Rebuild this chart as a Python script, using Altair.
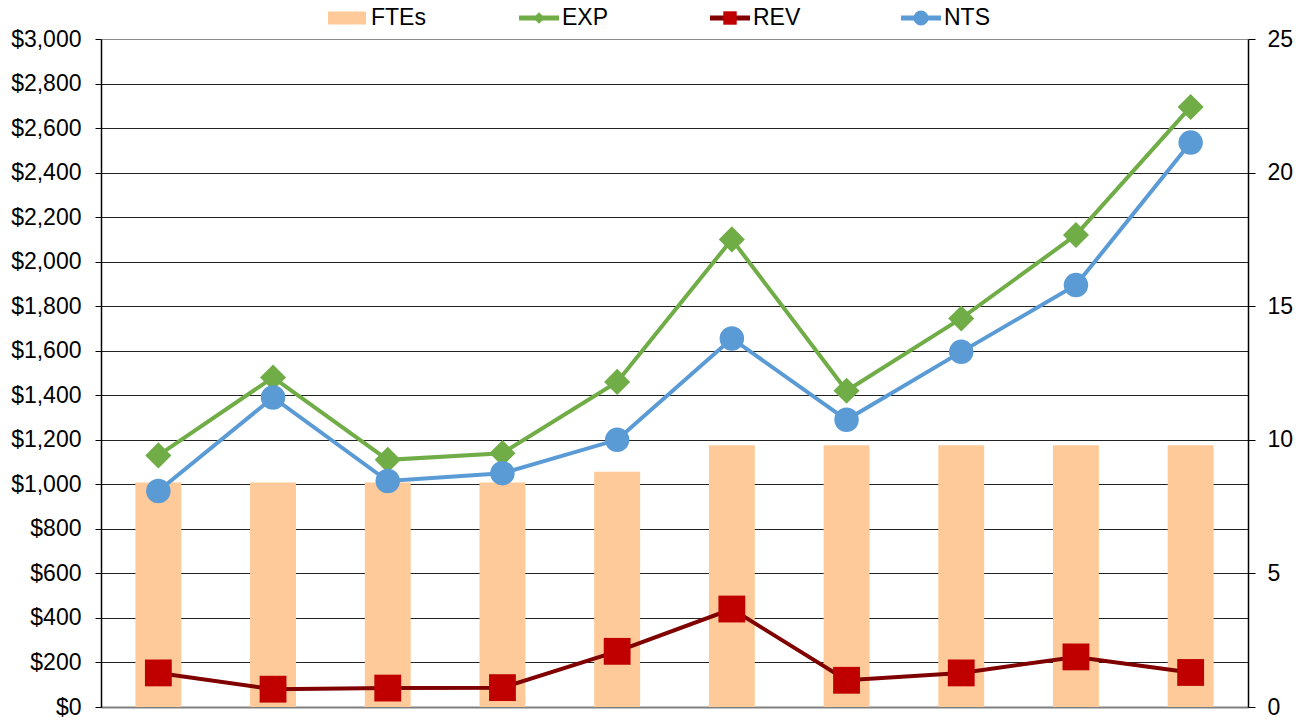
import altair as alt
import pandas as pd

# ---- data ----
categories = ["1", "2", "3", "4", "5", "6", "7", "8", "9", "10"]
fte = [8.4, 8.4, 8.4, 8.4, 8.8, 9.8, 9.8, 9.8, 9.8, 9.8]
exp = [1130, 1480, 1110, 1140, 1460, 2100, 1420, 1745, 2120, 2695]
rev = [153, 80, 85, 87, 250, 440, 120, 153, 225, 155]
nts = [970, 1390, 1015, 1050, 1200, 1655, 1290, 1595, 1895, 2535]
legend_names = ["FTEs", "EXP", "REV", "NTS"]
left_ticks = [0, 200, 400, 600, 800, 1000, 1200, 1400, 1600, 1800, 2000,
              2200, 2400, 2600, 2800, 3000]
right_ticks = [0, 5, 10, 15, 20, 25]

df = pd.DataFrame({"cat": categories, "FTEs": fte, "EXP": exp, "REV": rev, "NTS": nts})
leg = pd.DataFrame({"name": legend_names})

FONT = "Liberation Sans"
C_FTE = "#FFCA99"
C_EXP = "#70AD47"
C_REV_LINE = "#800000"
C_REV_MARK = "#C00000"
C_NTS = "#5B9BD5"

x_enc = alt.X("cat:N", sort=categories,
              scale=alt.Scale(paddingInner=0, paddingOuter=0),
              axis=alt.Axis(labels=False, ticks=False, title=None,
                            domainColor="#808080", domainWidth=2))

y_left_scale = alt.Scale(domain=[0, 3000], nice=False, zero=True)
left_axis = alt.Axis(values=left_ticks, format="$,.0f", orient="left", title=None,
                     grid=True,
                     gridColor={"condition": {"test": "datum.value >= 3000", "value": "#8c8c8c"},
                                "value": "#222222"},
                     gridWidth=1, domainColor="#000000", domainWidth=1.5,
                     tickColor="#000000", tickSize=6, labelPadding=14,
                     labelFont=FONT, labelFontSize=23, labelColor="#000000")
right_axis = alt.Axis(values=right_ticks, orient="right", title=None, grid=False,
                      domainColor="#000000", domainWidth=1.5, tickColor="#000000",
                      tickSize=7, labelPadding=12, labelFont=FONT, labelFontSize=23,
                      labelColor="#000000")

base = alt.Chart(df)

bars = base.mark_bar(color=C_FTE, width=alt.RelativeBandSize(0.4)).encode(
    x=x_enc,
    y=alt.Y("FTEs:Q", scale=alt.Scale(domain=[0, 25], nice=False), axis=right_axis),
)


def series(field, line_color, mark_color, shape, size, first=False):
    ax = left_axis if first else None
    line = base.mark_line(color=line_color, strokeWidth=4).encode(
        x=x_enc, y=alt.Y(f"{field}:Q", scale=y_left_scale, axis=ax))
    pts = base.mark_point(filled=True, opacity=1, color=mark_color, shape=shape,
                          size=size).encode(
        x=x_enc, y=alt.Y(f"{field}:Q", scale=y_left_scale, axis=None))
    return [line, pts]


lines = (series("EXP", C_EXP, C_EXP, "diamond", 680, first=True)
         + series("REV", C_REV_LINE, C_REV_MARK, "square", 720)
         + series("NTS", C_NTS, C_NTS, "circle", 600))

inner = alt.layer(bars, *lines).resolve_scale(y="independent")

# ---- legend strip above the plot ----
lx = alt.X("name:N", sort=legend_names,
           scale=alt.Scale(type="point", domain=legend_names, range=[227, 800], padding=0),
           axis=None)
LY = -21
lbase = alt.Chart(leg)

swatch = lbase.transform_filter("datum.name == 'FTEs'").mark_rule(
    color=C_FTE, strokeWidth=13, x2Offset=38).encode(
    x=lx, x2="name:N", y=alt.value(LY))

leg_colors_line = alt.Scale(domain=["EXP", "REV", "NTS"],
                            range=[C_EXP, C_REV_LINE, C_NTS])
leg_colors_mark = alt.Scale(domain=["EXP", "REV", "NTS"],
                            range=[C_EXP, C_REV_MARK, C_NTS])
leg_lines = lbase.transform_filter("datum.name != 'FTEs'").mark_rule(
    strokeWidth=5, x2Offset=40).encode(
    x=lx, x2="name:N", y=alt.value(LY),
    color=alt.Color("name:N", scale=leg_colors_line, legend=None))
leg_marks = lbase.transform_filter("datum.name != 'FTEs'").mark_point(
    filled=True, opacity=1, xOffset=20).encode(
    x=lx, y=alt.value(LY),
    color=alt.Color("name:N", scale=leg_colors_mark, legend=None),
    shape=alt.Shape("name:N", scale=alt.Scale(domain=["EXP", "REV", "NTS"],
                                              range=["diamond", "square", "circle"]),
                    legend=None),
    size=alt.Size("name:N", scale=alt.Scale(domain=["EXP", "REV", "NTS"],
                                            range=[130, 230, 140]),
                  legend=None))
leg_text = lbase.mark_text(align="left", baseline="middle", dx=43, font=FONT,
                           fontSize=23, color="#000000").encode(
    x=lx, y=alt.value(LY), text="name:N")

legend_layer = alt.layer(swatch, leg_lines, leg_marks, leg_text).resolve_scale(
    color="independent")

chart = alt.layer(inner, legend_layer).resolve_scale(
    x="independent", y="independent", color="independent"
).properties(
    width=1147, height=668,
    autosize=alt.AutoSizeParams(type="none"),
    padding={"left": 93, "top": 31, "right": 51, "bottom": 12},
).configure_view(stroke=None).configure(background="#ffffff")

chart.save("out.html", embed_options={"renderer": "svg", "actions": False})
